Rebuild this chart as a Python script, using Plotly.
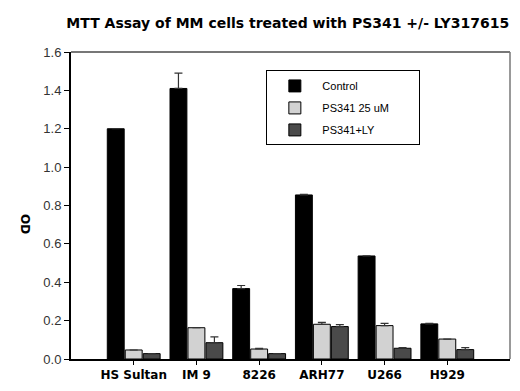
import plotly.graph_objects as go

categories = ["HS Sultan", "IM 9", "8226", "ARH77", "U266", "H929"]
control = [1.20, 1.41, 0.367, 0.855, 0.537, 0.183]
control_err = [0.0, 0.08, 0.016, 0.003, 0.0, 0.003]
ps341 = [0.047, 0.163, 0.052, 0.181, 0.174, 0.104]
ps341_err = [0.0, 0.0, 0.003, 0.01, 0.012, 0.0]
ps341ly = [0.028, 0.085, 0.028, 0.169, 0.056, 0.049]
ps341ly_err = [0.0, 0.03, 0.0, 0.01, 0.003, 0.01]

series_names = ["Control", "PS341 25 uM", "PS341+LY"]
colors = ["#000000", "#d2d2d2", "#4a4a4a"]

fig = go.Figure()
for i, (name, vals, errs, col) in enumerate(zip(series_names, [control, ps341, ps341ly],
                                                [control_err, ps341_err, ps341ly_err], colors)):
    fig.add_trace(go.Bar(
        x=list(range(len(categories))), y=vals,
        name=name + "\u00a0" * 8, legendgroup="g%d" % i,
        marker=dict(color=col, line=dict(color="#000000", width=1)),
        error_y=dict(type="data", array=errs, arrayminus=[0] * len(errs),
                     symmetric=False, color="#333333", thickness=1.2, width=4),
    ))

fig.update_layout(
    width=520, height=391,
    margin=dict(l=63, r=18, t=44, b=40),
    paper_bgcolor="white", plot_bgcolor="white",
    barmode="group", bargap=0.14, bargroupgap=0.06,
    title=dict(text="<b>MTT Assay of MM cells treated with PS341 +/- LY317615</b>",
               x=0.538, xanchor="center", y=0.962, yanchor="middle",
               font=dict(family="DejaVu Sans", size=14, color="#000")),
    showlegend=True,
    legend=dict(x=0.445, y=0.94, xanchor="left", yanchor="top",
                bgcolor="white", bordercolor="#000", borderwidth=1,
                font=dict(family="Liberation Sans", size=11, color="#000"),
                traceorder="grouped", tracegroupgap=3,
                itemwidth=45),
    xaxis=dict(range=[-1, 6], tickmode="array",
               tickvals=list(range(len(categories))),
               ticktext=["<b>%s</b>" % c for c in categories],
               ticks="outside", ticklen=4, tickcolor="#000",
               showline=True, linecolor="#000", linewidth=2,
               mirror=False, showgrid=False, zeroline=False,
               tickfont=dict(family="DejaVu Sans", size=12, color="#000")),
    yaxis=dict(range=[0, 1.6], tickvals=[0, 0.2, 0.4, 0.6, 0.8, 1.0, 1.2, 1.4, 1.6],
               tickformat=".1f", ticks="outside", ticklen=5, tickcolor="#000",
               showline=True, linecolor="#000", linewidth=2,
               showgrid=False, zeroline=False,
               tickfont=dict(family="Liberation Sans", size=13, color="#333")),
    shapes=[
        dict(type="line", xref="paper", yref="paper", x0=0, x1=1, y0=1, y1=1,
             line=dict(color="#777", width=2)),
        dict(type="line", xref="paper", yref="paper", x0=1, x1=1, y0=0, y1=1,
             line=dict(color="#777", width=1.5)),
    ],
    annotations=[
        dict(text="<b>OD</b>", textangle=90, xref="paper", yref="paper",
             x=-0.105, y=0.44, showarrow=False, xanchor="center", yanchor="middle",
             font=dict(family="DejaVu Sans", size=12, color="#000")),
    ],
)

fig.write_html("out.html")
